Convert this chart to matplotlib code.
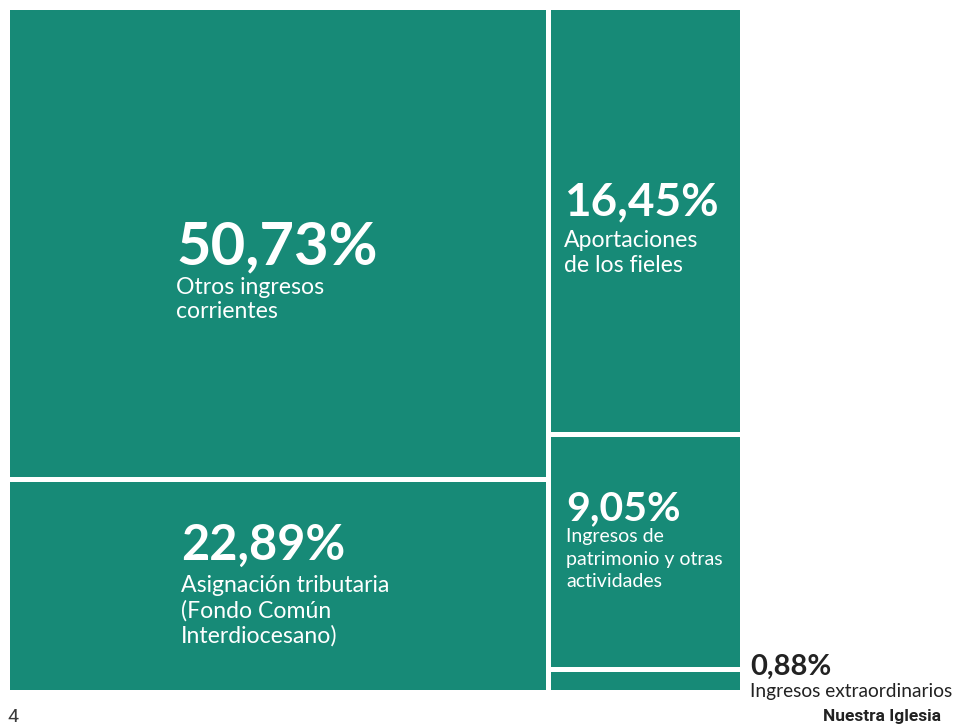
import matplotlib.pyplot as plt
from matplotlib.patches import Rectangle

# Data
porcentajes = [50.73, 22.89, 16.45, 9.05, 0.88]
etiquetas = [
    ["Otros ingresos", "corrientes"],
    ["Asignación tributaria", "(Fondo Común", "Interdiocesano)"],
    ["Aportaciones", "de los fieles"],
    ["Ingresos de", "patrimonio y otras", "actividades"],
    ["Ingresos extraordinarios"],
]
columnas = [[0, 1], [2, 3, 4]]

COLOR = "#178a77"
W, H = 959, 726
X0, Y0, TW, TH = 10, 10, 735, 685
GAP = 5

# text settings per block:
# (x offset in rect, pct baseline, first label baseline, pct size, label size, line step px)
txt_cfg = [
    (166, 264, 294, 43, 16.6, 24.5),
    (171, 560, 592, 35, 16.6, 25.5),
    (13, 215, 247, 33, 16.6, 25),
    (15, 520, 542, 29.5, 14, 22.5),
]

fig = plt.figure(figsize=(W / 100, H / 100), dpi=100)
ax = fig.add_axes([0, 0, 1, 1])
ax.set_xlim(0, W)
ax.set_ylim(H, 0)
ax.axis("off")

total = sum(porcentajes)
rects = {}
x = X0
for col in columnas:
    col_sum = sum(porcentajes[i] for i in col)
    cw = TW * col_sum / total
    y = Y0
    for i in col:
        rh = TH * porcentajes[i] / col_sum
        rects[i] = (x, y, cw - GAP, rh - GAP)
        ax.add_patch(Rectangle((x, y), cw - GAP, rh - GAP, facecolor=COLOR, edgecolor="none"))
        y += rh
    x += cw

def fmt(v):
    return f"{v:.2f}".replace(".", ",") + "%"

for i, (dx, yb, lb, ps, ls, step) in enumerate(txt_cfg):
    rx, ry, rw, rh = rects[i]
    tx = rx + dx
    ax.text(tx, yb, fmt(porcentajes[i]), color="white", fontsize=ps,
            fontweight="bold", family="Lato", va="baseline", ha="left")
    for k, linea in enumerate(etiquetas[i]):
        ax.text(tx, lb + k * step, linea, color="white", fontsize=ls,
                family="Lato", va="baseline", ha="left")

# small block label outside
rx, ry, rw, rh = rects[4]
ax.text(rx + rw + 10, 675, fmt(porcentajes[4]), color="#222222", fontsize=21,
        fontweight="bold", family="Lato", va="baseline", ha="left")
ax.text(rx + rw + 10, 697, etiquetas[4][0], color="#222222", fontsize=13.8,
        family="Lato", va="baseline", ha="left")

# page footer
ax.text(7, 722, "4", color="#3a3a3a", fontsize=14, family="Roboto",
        va="baseline", ha="left")
ax.text(941, 721, "Nuestra Iglesia", color="#222222", fontsize=12.5,
        family="Roboto", fontweight="bold", va="baseline", ha="right")

fig.savefig("out.png", dpi=100)
